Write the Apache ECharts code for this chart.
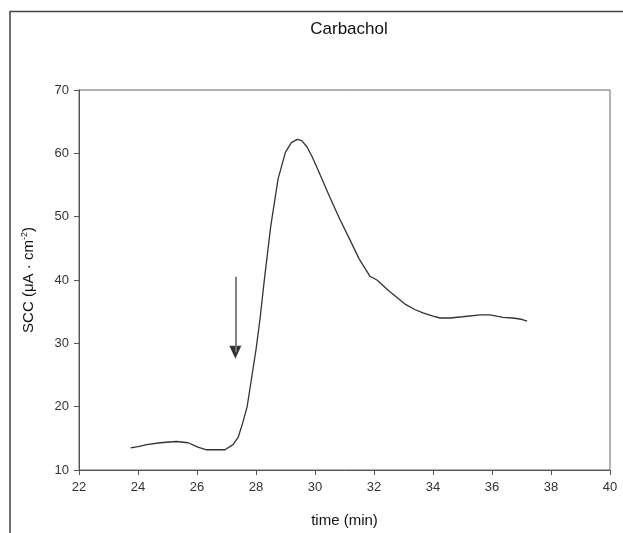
<!DOCTYPE html>
<html>
<head>
<meta charset="utf-8">
<script src="https://cdn.jsdelivr.net/npm/echarts@6/dist/echarts.min.js"></script>
<style>
  html, body { margin: 0; padding: 0; background: #fff; }
  #chart { width: 623px; height: 533px; }
</style>
</head>
<body>
<div id="chart"></div>
<script>
// time (min) and SCC values
var timeMin = [23.75, 24.0, 24.3, 24.75, 25.3, 25.7, 26.03, 26.3, 26.6, 26.95, 27.22, 27.4, 27.56, 27.7, 27.86, 28.0, 28.14, 28.27, 28.5, 28.75, 29.0, 29.2, 29.4, 29.55, 29.73, 29.9, 30.1, 30.5, 30.85, 31.19, 31.5, 31.86, 32.1, 32.5, 33.05, 33.4, 33.66, 34.0, 34.24, 34.58, 35.0, 35.6, 35.93, 36.37, 36.7, 37.0, 37.19];
var scc = [13.5, 13.7, 14.0, 14.3, 14.5, 14.3, 13.6, 13.2, 13.2, 13.2, 14.0, 15.2, 17.6, 20.0, 24.8, 29.0, 34.0, 39.5, 48.5, 56.0, 60.2, 61.7, 62.2, 62.0, 61.0, 59.5, 57.4, 53.1, 49.5, 46.3, 43.3, 40.6, 40.0, 38.3, 36.2, 35.3, 34.8, 34.3, 34.0, 34.0, 34.2, 34.5, 34.5, 34.1, 34.0, 33.8, 33.5];
// carbachol addition arrow: shaft top and arrow head centre
var arrowStart = [27.3, 40.5];
var arrowHead = [27.3, 28.6];

var trace = [];
for (var i = 0; i < timeMin.length; i++) {
  trace.push([timeMin[i], scc[i]]);
}

var myChart = echarts.init(document.getElementById("chart"));
var font = "Liberation Sans, Arial, sans-serif";
var option = {
  backgroundColor: "#fff",
  animation: false,
  title: {
    text: "Carbachol",
    left: 344,
    top: 16,
    textAlign: "center",
    textStyle: { fontFamily: font, fontSize: 17, fontWeight: "normal", color: "#111" },
  },
  graphic: [
    {
      type: "polyline",
      shape: { points: [[10, 540], [10, 11.5], [630, 11.5]] },
      style: { stroke: "#444", lineWidth: 1.5, fill: null },
      silent: true,
    },
  ],
  grid: {
    left: 79,
    right: 13,
    top: 90,
    bottom: 63,
    show: true,
    borderColor: "#666",
    borderWidth: 1,
  },
  xAxis: {
    type: "value",
    min: 22,
    max: 40,
    interval: 2,
    name: "time (min)",
    nameLocation: "middle",
    nameGap: 43,
    nameTextStyle: { fontFamily: font, fontSize: 15, color: "#111" },
    axisLine: { lineStyle: { color: "#555", width: 1 } },
    axisTick: { length: 5, lineStyle: { color: "#555" } },
    axisLabel: { fontFamily: font, fontSize: 13, color: "#333", margin: 11 },
    splitLine: { show: false },
  },
  yAxis: {
    type: "value",
    min: 10,
    max: 70,
    interval: 10,
    name: "{a|SCC (μA · cm}{b|-2}{a|)}",
    nameLocation: "middle",
    nameRotate: 90,
    nameGap: 42,
    nameTextStyle: {
      fontFamily: font,
      fontSize: 15,
      color: "#111",
      rich: {
        a: { fontFamily: font, fontSize: 15, color: "#111" },
        b: { fontFamily: font, fontSize: 9, color: "#111", verticalAlign: "top", padding: [0, 0, 8, 0] },
      },
    },
    axisLine: { show: true, lineStyle: { color: "#555", width: 1 } },
    axisTick: { show: true, length: 5, lineStyle: { color: "#555" } },
    axisLabel: { fontFamily: font, fontSize: 13, color: "#333", margin: 10 },
    splitLine: { show: false },
  },
  series: [
    {
      name: "SCC",
      type: "line",
      data: trace,
      showSymbol: false,
      smooth: false,
      lineStyle: { color: "#333", width: 1.3 },
      markLine: {
        silent: true,
        symbol: ["none", "none"],
        label: { show: false },
        lineStyle: { color: "#777", width: 1.8, type: "solid" },
        data: [[{ coord: arrowStart }, { coord: arrowHead }]],
      },
    },
    {
      name: "arrow",
      type: "scatter",
      data: [arrowHead],
      symbol: "triangle",
      symbolRotate: 180,
      symbolSize: [12, 13],
      itemStyle: { color: "#000" },
      silent: true,
      z: 3,
    },
  ],
};
myChart.setOption(option);
</script>
</body>
</html>
